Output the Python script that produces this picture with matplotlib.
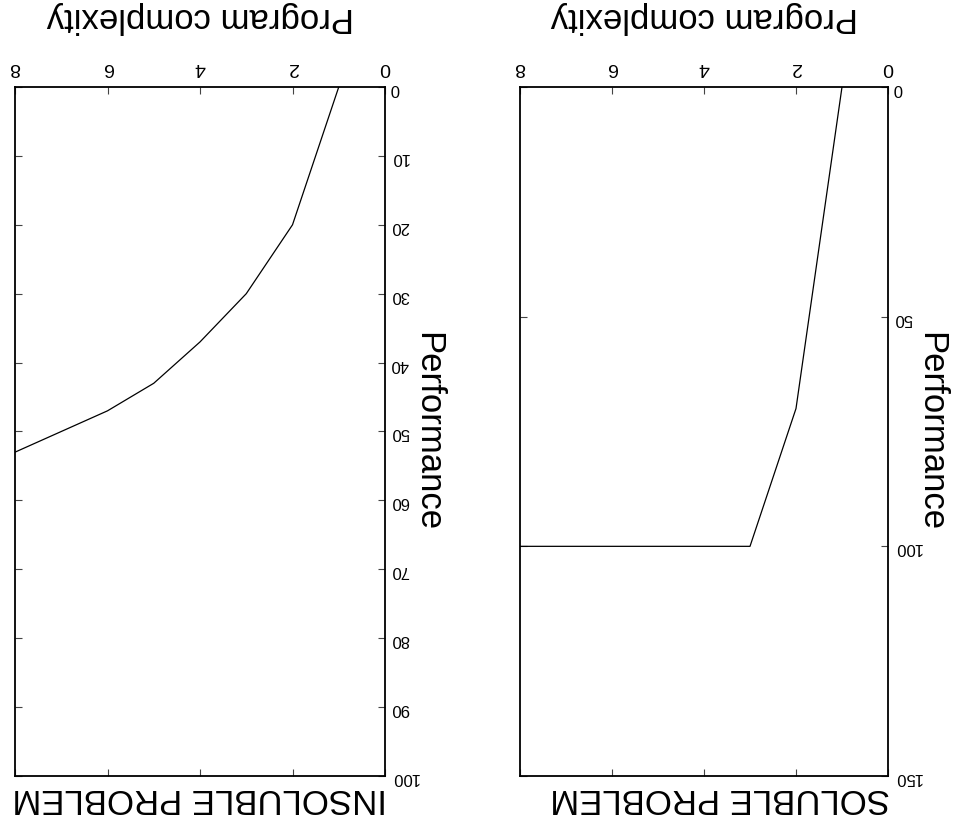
import matplotlib.pyplot as plt

plt.rcParams['font.family'] = ['Liberation Sans', 'DejaVu Sans']

# soluble problem (right panel in the picture)
sol_complexity = [1, 2, 3, 8]
sol_performance = [0, 70, 100, 100]
sol_yticks = [0, 50, 100, 150]

# insoluble problem (left panel in the picture)
ins_complexity = [1, 2, 3, 4, 5, 6, 8]
ins_performance = [0, 20, 30, 37, 43, 47, 53]
ins_yticks = [0, 10, 20, 30, 40, 50, 60, 70, 80, 90, 100]

x_ticks = [0, 2, 4, 6, 8]

W, H = 956, 825
fig = plt.figure(figsize=(W / 100, H / 100), dpi=100)
ax_ins = fig.add_axes([15 / W, 1 - 776 / H, 370 / W, 689 / H])
ax_sol = fig.add_axes([520 / W, 1 - 776 / H, 368 / W, 689 / H])


def setup(ax, xs, ys, yticks, title):
    ax.plot(xs, ys, color='black', lw=0.9)
    # whole chart is drawn upside down
    ax.set_xlim(8, 0)
    ax.set_ylim(yticks[-1], 0)
    ax.set_xticks(x_ticks)
    ax.set_yticks(yticks)
    ax.xaxis.tick_top()
    ax.yaxis.tick_right()
    ax.tick_params(axis='x', direction='in', top=True, bottom=True,
                   labeltop=True, labelbottom=False, labelrotation=180,
                   labelsize=14, pad=8, length=5, width=0.8, color='#444444')
    ax.tick_params(axis='y', direction='in', left=True, right=True,
                   labelright=True, labelleft=False, labelrotation=180,
                   labelsize=12, pad=4, length=5, width=0.8, color='#444444')
    for s in ax.spines.values():
        s.set_linewidth(1.3)
    ax.xaxis.set_label_position('top')
    ax.set_xlabel('Program complexity', fontsize=25, rotation=180, labelpad=18)
    ax.xaxis.label.set_va('bottom')
    ax.yaxis.set_label_position('right')
    ax.set_ylabel('Performance', fontsize=25, rotation=270, labelpad=-5)
    ax.yaxis.label.set_rotation_mode('anchor')
    ax.yaxis.label.set_va('bottom')
    ax.text(1.005, -0.008, title, transform=ax.transAxes, rotation=180,
            ha='right', va='top', fontsize=25)


setup(ax_ins, ins_complexity, ins_performance, ins_yticks, 'INSOLUBLE PROBLEM')
setup(ax_sol, sol_complexity, sol_performance, sol_yticks, 'SOLUBLE PROBLEM')

fig.savefig('out.png', dpi=100)
